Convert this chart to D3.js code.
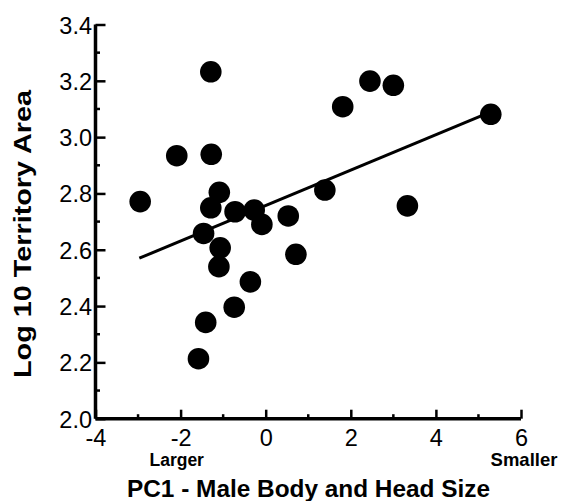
<!DOCTYPE html>
<html><head><meta charset="utf-8">
<script src="https://cdn.jsdelivr.net/npm/d3@7"></script>
<style>body{margin:0;background:#fff}svg{display:block}</style>
</head><body>
<svg id="c" width="564" height="501"></svg>
<script>
const pcX = [-2.95, -2.09, -1.29, -1.28, -1.09, -1.29, -0.72, -0.27, -0.09, 0.53, -1.46, -1.07, -1.10, 0.71, -0.36, -0.74, -1.41, -1.58, 1.39, 1.81, 2.45, 3.00, 5.29, 3.33];
const logArea = [2.771, 2.934, 3.232, 2.939, 2.804, 2.749, 2.735, 2.741, 2.690, 2.720, 2.658, 2.607, 2.540, 2.584, 2.486, 2.396, 2.342, 2.213, 2.812, 3.108, 3.199, 3.184, 3.081, 2.756];
const fitX = [-2.97, 5.29];
const fitY = [2.570, 3.090];
const xTicks = [-4, -2, 0, 2, 4, 6];
const xMinor = [-3, -1, 1, 3, 5];
const yTicks = [2.0, 2.2, 2.4, 2.6, 2.8, 3.0, 3.2, 3.4];
const yMinor = [2.1, 2.3, 2.5, 2.7, 2.9, 3.1, 3.3];

const svg = d3.select("#c");
const x = d3.scaleLinear().domain([-4, 6]).range([95.5, 521]);
const y = d3.scaleLinear().domain([2.0, 3.4]).range([418.7, 24.5]);
const font = "Arial, 'Liberation Sans', Helvetica, sans-serif";

// x axis
const gx = svg.append("g").attr("transform", `translate(0,${y(2.0)})`);
gx.call(d3.axisBottom(x).tickValues(xTicks).tickSize(-9).tickPadding(0).tickFormat(d3.format("d")));
gx.select(".domain").attr("d", `M${x(-4)},0H${x(6)}`).attr("stroke", "#000").attr("stroke-width", 3.5);
gx.selectAll(".tick line").attr("stroke", "#000").attr("stroke-width", 2.5);
gx.selectAll(".tick text").attr("font-family", font).attr("font-size", 23.5).attr("fill", "#000")
  .attr("y", 27.5).attr("dy", null).text(d => d < 0 ? "-" + Math.abs(d) : d);
gx.selectAll(".minor").data(xMinor).enter().append("line")
  .attr("x1", d => x(d)).attr("x2", d => x(d)).attr("y1", 0).attr("y2", -4.5)
  .attr("stroke", "#000").attr("stroke-width", 2.5);

// y axis
const gy = svg.append("g").attr("transform", `translate(${x(-4)},0)`);
gy.call(d3.axisLeft(y).tickValues(yTicks).tickSize(-10).tickPadding(0).tickFormat(d3.format(".1f")));
gy.select(".domain").attr("d", `M0,${y(3.4)}V${y(2.0)}`).attr("stroke", "#000").attr("stroke-width", 3.5);
gy.selectAll(".tick line").attr("stroke", "#000").attr("stroke-width", 2.5);
gy.selectAll(".tick text").attr("font-family", font).attr("font-size", 23.5).attr("fill", "#000")
  .attr("x", -3.5).attr("dy", null).attr("y", 8.5).attr("text-anchor", "end");
gy.selectAll(".minor").data(yMinor).enter().append("line")
  .attr("y1", d => y(d)).attr("y2", d => y(d)).attr("x1", 0).attr("x2", 4.5)
  .attr("stroke", "#000").attr("stroke-width", 2.5);

// fit line
svg.append("line")
  .attr("x1", x(fitX[0])).attr("y1", y(fitY[0]))
  .attr("x2", x(fitX[1])).attr("y2", y(fitY[1]))
  .attr("stroke", "#000").attr("stroke-width", 3);

// points
svg.append("g").selectAll("circle").data(pcX.map((v, i) => [v, logArea[i]])).enter()
  .append("circle").attr("cx", d => x(d[0])).attr("cy", d => y(d[1])).attr("r", 10.8).attr("fill", "#000");

// labels
svg.append("text").attr("x", 176.7).attr("y", 466).attr("text-anchor", "middle")
  .attr("font-family", font).attr("font-weight", "bold").attr("font-size", 17.5).text("Larger");
svg.append("text").attr("x", 524).attr("y", 466).attr("text-anchor", "middle")
  .attr("font-family", font).attr("font-weight", "bold").attr("font-size", 18.5).text("Smaller");
svg.append("text").attr("x", 308.5).attr("y", 496.5).attr("text-anchor", "middle")
  .attr("font-family", font).attr("font-weight", "bold").attr("font-size", 23)
  .attr("textLength", 363).attr("lengthAdjust", "spacingAndGlyphs")
  .text("PC1 - Male Body and Head Size");
svg.append("text").attr("transform", "translate(30.7,234) rotate(-90)").attr("text-anchor", "middle")
  .attr("font-family", font).attr("font-weight", "bold").attr("font-size", 23)
  .attr("textLength", 288).attr("lengthAdjust", "spacingAndGlyphs")
  .text("Log 10 Territory Area");
</script>
</body></html>
